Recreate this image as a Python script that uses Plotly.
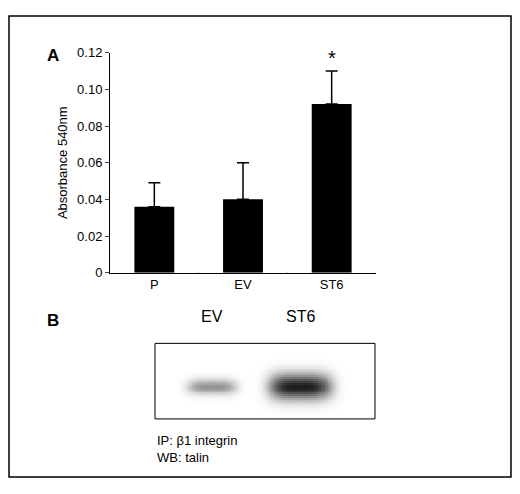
import numpy as np
import plotly.graph_objects as go

categories = ["P", "EV", "ST6"]
absorbance = [0.036, 0.040, 0.092]
errors = [0.013, 0.020, 0.018]
yticks = [0, 0.02, 0.04, 0.06, 0.08, 0.10, 0.12]
ytick_labels = ["0", "0.02", "0.04", "0.06", "0.08", "0.10", "0.12"]
blot_lanes = ["EV", "ST6"]
band_x = [0.26, 0.66]          # lane centre, fraction of blot width
band_strength = [0.45, 0.95]
band_halfwidth = [0.11, 0.14]
band_halfheight = [0.10, 0.17]

W, H = 504, 478
OFF = 8
px = lambda x: (x - OFF) / W
py = lambda y: 1 - (y - OFF) / H

fig = go.Figure()
fig.add_bar(x=categories, y=absorbance, width=0.45, marker=dict(color="black", line=dict(width=0)),
            error_y=dict(type="data", array=errors, arrayminus=[0]*3, symmetric=False,
                         color="black", thickness=1.5, width=6))

nx, ny = 110, 40
xs = np.linspace(0, 1, nx)
ys = np.linspace(0, 1, ny)
X, Y = np.meshgrid(xs, ys)
Z = np.zeros_like(X)
for cx, s, hw, hh in zip(band_x, band_strength, band_halfwidth, band_halfheight):
    Z += s * np.exp(-(((X - cx) / hw) ** 4 + ((Y - 0.58) / hh) ** 2))
fig.add_heatmap(z=Z, x=xs, y=ys, xaxis="x2", yaxis="y2", showscale=False,
                colorscale=[[0, "white"], [1, "#111"]], zmin=0, zmax=1, hoverinfo="skip")

font = dict(family="Liberation Sans, Arial", size=13, color="black")
fig.update_layout(
    width=W, height=H, margin=dict(l=0, r=0, t=0, b=0),
    plot_bgcolor="white", paper_bgcolor="white", showlegend=False, font=font,
    xaxis=dict(domain=[px(110), px(376)], range=[-0.5, 2.5], showline=True, linecolor="black",
               linewidth=1, ticks="", tickfont=font, anchor="y"),
    yaxis=dict(domain=[py(274), py(47)], range=[0, 0.12], tickvals=yticks, ticktext=ytick_labels,
               showline=True, linecolor="black", linewidth=1, ticks="outside", ticklen=4,
               showgrid=False, zeroline=False, tickfont=font,
               title=dict(text="Absorbance 540nm", font=font, standoff=6)),
    xaxis2=dict(domain=[px(155), px(375)], range=[0, 1], visible=False, anchor="y2"),
    yaxis2=dict(domain=[py(425), py(347)], range=[1, 0], visible=False, anchor="x2"),
)
for xv in [0.5, 1.5, 2.5]:
    fig.add_shape(type="line", xref="x", yref="y", x0=xv, x1=xv, y0=0, y1=-0.0025,
                  line=dict(color="black", width=1))
fig.add_shape(type="rect", xref="paper", yref="paper", x0=px(155), x1=px(375), y0=py(425), y1=py(347),
              line=dict(color="black", width=1))
fig.add_shape(type="rect", xref="paper", yref="paper", x0=0.002, x1=0.998, y0=0.002, y1=0.998,
              line=dict(color="black", width=1.5))

bold = dict(family="Liberation Sans, Arial", size=17, color="black")
fig.add_annotation(text="<b>A</b>", x=px(45), y=py(38), xref="paper", yref="paper", showarrow=False, font=bold)
fig.add_annotation(text="<b>B</b>", x=px(45), y=py(323), xref="paper", yref="paper", showarrow=False, font=bold)
fig.add_annotation(text="*", x="ST6", y=0.117, xref="x", yref="y", showarrow=False,
                   font=dict(family="Liberation Sans", size=20, color="black"))
lane_font = dict(family="Liberation Sans, Arial", size=16, color="black")
for name, bx in zip(blot_lanes, band_x):
    fig.add_annotation(text=name, x=px(155 + bx * 220), y=py(330), xref="paper", yref="paper",
                       showarrow=False, font=lane_font)
fig.add_annotation(text="IP: β1 integrin<br>WB: talin", x=px(155), y=py(437), xref="paper", yref="paper",
                   xanchor="left", yanchor="top", align="left", showarrow=False, font=font)
fig.write_html("out.html")
